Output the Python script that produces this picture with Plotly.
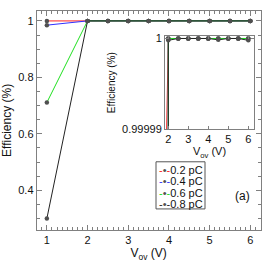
import plotly.graph_objects as go

# ---- data ----
vov = [1, 2, 2.5, 3, 3.5, 4, 4.5, 5, 5.5, 6]
eff_02pC = [0.99988, 1, 1, 1, 1, 1, 1, 1, 1, 1]
eff_04pC = [0.985, 1, 1, 1, 1, 1, 1, 1, 1, 1]
eff_06pC = [0.711, 1, 1, 1, 1, 1, 1, 1, 1, 1]
eff_08pC = [0.300, 0.9999998, 1, 1, 1, 1, 0.99999985, 1, 1, 0.9999998]

series_names = ["0.2 pC", "0.4 pC", "0.6 pC", "0.8 pC"]
series_vals = [eff_02pC, eff_04pC, eff_06pC, eff_08pC]
series_colors = ["#ff2020", "#3030ff", "#20e020", "#222222"]

main_xticks = [1, 2, 3, 4, 5, 6]
main_yticks = [0.4, 0.6, 0.8, 1]
inset_xticks = [2, 3, 4, 5, 6]
inset_yticks = [0.99999, 1]
inset_yticktext = ["0.99999", "1"]

W = H = 264
FONT = "Liberation Sans, Arial, Helvetica, sans-serif"
AX = "#808080"
MARK = "#505050"

def px_x(p):
    return p / W

def px_y(p):
    return 1 - p / H

fig = go.Figure()

for name, vals, col in zip(series_names, series_vals, series_colors):
    fig.add_trace(go.Scatter(
        x=vov, y=vals, mode="lines+markers", name=name,
        line=dict(color=col, width=1),
        marker=dict(color=MARK, size=4.5),
        xaxis="x", yaxis="y", showlegend=False))
for name, vals, col in zip(series_names, series_vals, series_colors):
    fig.add_trace(go.Scatter(
        x=vov, y=vals, mode="lines+markers", name=name,
        line=dict(color=col, width=1),
        marker=dict(color=MARK, size=4.5),
        xaxis="x2", yaxis="y2", showlegend=False))

axis_common = dict(
    showline=True, linecolor=AX, linewidth=1, mirror="ticks",
    ticks="inside", tickcolor=AX, tickwidth=1,
    showgrid=False, zeroline=False,
    tickfont=dict(family=FONT, size=11, color="#111"),
)

fig.update_layout(
    width=W, height=H, autosize=False,
    margin=dict(l=0, r=0, t=0, b=0),
    paper_bgcolor="white", plot_bgcolor="white",
    font=dict(family=FONT, color="#111"),
    showlegend=False,
    xaxis=dict(
        axis_common,
        domain=[px_x(36.7), px_x(260.5)], range=[0.75, 6.25],
        tickmode="array", tickvals=main_xticks, ticklen=5,
        minor=dict(ticks="inside", dtick=0.125, tick0=0, ticklen=3, tickcolor=AX),
        title=dict(text="V<sub>ov</sub> (V)", font=dict(size=12, family=FONT), standoff=1),
        anchor="y",
    ),
    yaxis=dict(
        axis_common,
        domain=[px_y(234.7), px_y(7.3)], range=[0.26, 1.035],
        tickmode="array", tickvals=main_yticks, ticklen=5,
        minor=dict(ticks="inside", dtick=0.05, tick0=0, ticklen=3, tickcolor=AX),
        title=dict(text="Efficiency (%)", font=dict(size=12, family=FONT), standoff=3),
        anchor="x",
    ),
    xaxis2=dict(
        axis_common,
        domain=[px_x(165), px_x(254)], range=[1.835, 6.285],
        tickmode="array", tickvals=inset_xticks, ticklen=3,
        title=dict(text="V<sub>ov</sub> (V)", font=dict(size=11, family=FONT), standoff=0),
        anchor="y2",
    ),
    yaxis2=dict(
        axis_common,
        domain=[px_y(130), px_y(33.5)], range=[0.99999, 1.00000025],
        tickmode="array", tickvals=inset_yticks, ticktext=inset_yticktext, ticklen=3,
        title=dict(text="Efficiency (%)", font=dict(size=10, family=FONT), standoff=4),
        anchor="x2",
    ),
)

# legend box (manual, compact like the reference)
fig.add_shape(type="rect", xref="paper", yref="paper",
              x0=px_x(156), x1=px_x(205), y0=px_y(213), y1=px_y(164),
              line=dict(color="#555", width=1), fillcolor="white", layer="above")
row_y = [172.3, 184.3, 196.3, 208.3]
for name, col, ry in zip(series_names, series_colors, row_y):
    txt = (f"<span style='color:{col}'>-</span><span style='color:{MARK}'>•</span>"
           f"<span style='color:{col}'>-</span>{name}")
    fig.add_annotation(xref="paper", yref="paper", x=px_x(157), y=px_y(ry),
                       xanchor="left", yanchor="middle", showarrow=False,
                       text=txt, font=dict(size=11, family=FONT, color="#111"))

fig.add_annotation(xref="paper", yref="paper", x=px_x(242), y=px_y(200),
                   xanchor="center", yanchor="middle", showarrow=False,
                   text="(a)", font=dict(size=12, family=FONT, color="#111"))

fig.write_html(
    "out.html",
    config={"displayModeBar": False, "staticPlot": True},
    post_script="document.body.style.margin='0';document.body.style.padding='0';"
                "document.documentElement.style.overflow='hidden';",
)
